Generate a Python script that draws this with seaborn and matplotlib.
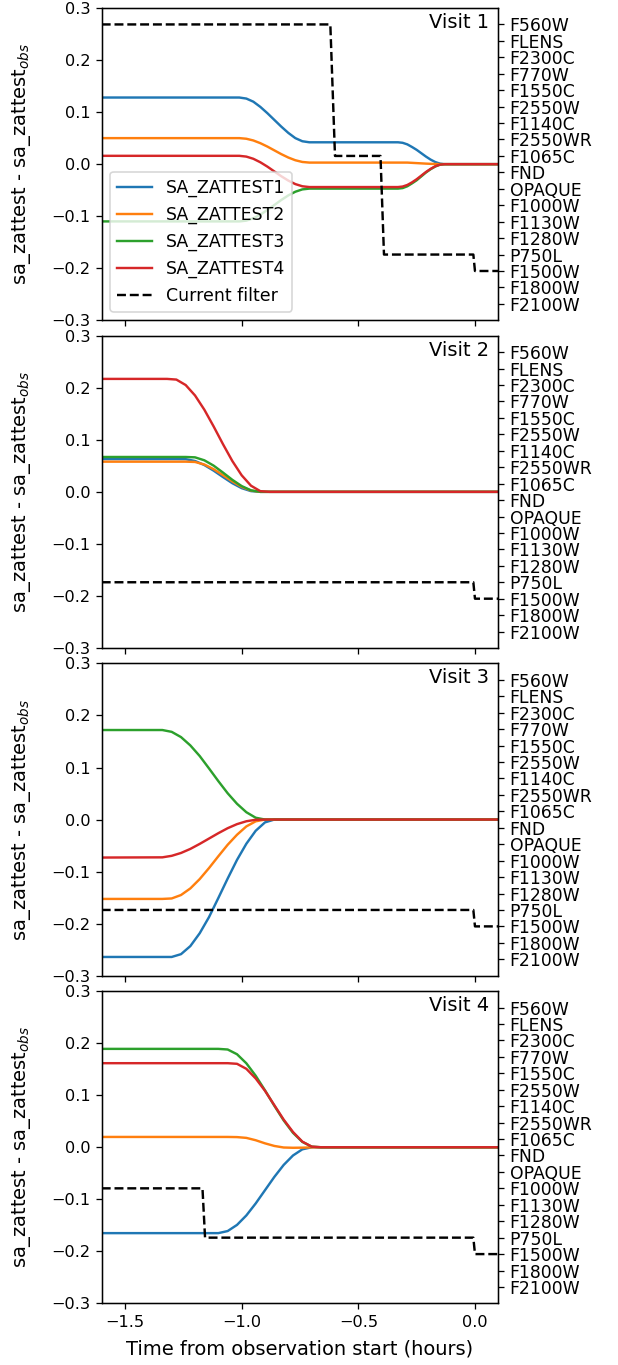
import matplotlib
matplotlib.use("Agg")
import matplotlib.pyplot as plt
import seaborn as sns
import numpy as np

# ---------------- data ----------------
series_names = ["SA_ZATTEST1", "SA_ZATTEST2", "SA_ZATTEST3", "SA_ZATTEST4"]
filters = ["F560W", "FLENS", "F2300C", "F770W", "F1550C", "F2550W", "F1140C",
           "F2550WR", "F1065C", "FND", "OPAQUE", "F1000W", "F1130W", "F1280W",
           "P750L", "F1500W", "F1800W", "F2100W"]
visits = ["Visit 1", "Visit 2", "Visit 3", "Visit 4"]

# Visit 1
t_v1 = [-1.6, -1.01, -0.98, -0.95, -0.92, -0.89, -0.86, -0.83, -0.80, -0.77, -0.74, -0.71,
        -0.33, -0.31, -0.29, -0.27, -0.25, -0.23, -0.21, -0.19, -0.17, -0.15, -0.13, 0.1]
v1_sa1 = [0.128, 0.128, 0.126, 0.120, 0.110, 0.098, 0.085, 0.072, 0.060, 0.050, 0.044, 0.042,
          0.042, 0.041, 0.038, 0.033, 0.0275, 0.021, 0.0145, 0.0087, 0.004, 0.001, 0.0, 0.0]
v1_sa2 = [0.050, 0.050, 0.0488, 0.0455, 0.0403, 0.0338, 0.0265, 0.0192, 0.0127, 0.0075, 0.0042, 0.003,
          0.003, 0.003, 0.003, 0.0025, 0.002, 0.0015, 0.001, 0.0006, 0.0003, 0.0001, 0.0, 0.0]
v1_sa3 = [-0.110, -0.110, -0.1085, -0.104, -0.097, -0.088, -0.0785, -0.0688, -0.060, -0.053, -0.0485, -0.047,
          -0.047, -0.046, -0.0425, -0.037, -0.031, -0.0235, -0.016, -0.0097, -0.0045, -0.001, 0.0, 0.0]
v1_sa4 = [0.016, 0.016, 0.0145, 0.0103, 0.0036, -0.0047, -0.014, -0.0233, -0.0316, -0.0383, -0.0425, -0.044,
          -0.044, -0.043, -0.040, -0.035, -0.029, -0.022, -0.015, -0.009, -0.004, -0.001, 0.0, 0.0]
f_t_v1 = [-1.6, -0.62, -0.60, -0.405, -0.39, -0.007, 0.0, 0.1]
f_v1 = ["F560W", "F560W", "F1065C", "F1065C", "P750L", "P750L", "F1500W", "F1500W"]

# Visit 2
t_v2 = [-1.6, -1.32, -1.28, -1.24, -1.20, -1.16, -1.12, -1.08, -1.04, -1.00, -0.96, -0.92, -0.88, 0.1]
v2_sa1 = [0.063, 0.063, 0.063, 0.0628, 0.0593, 0.0515, 0.0407, 0.0284, 0.0166, 0.0071, 0.0014, 0.0, 0.0, 0.0]
v2_sa2 = [0.058, 0.058, 0.058, 0.058, 0.0574, 0.0525, 0.0435, 0.032, 0.020, 0.0096, 0.0025, 0.0, 0.0, 0.0]
v2_sa3 = [0.067, 0.067, 0.067, 0.067, 0.0663, 0.0606, 0.0503, 0.037, 0.0231, 0.0111, 0.0029, 0.0, 0.0, 0.0]
v2_sa4 = [0.217, 0.217, 0.2157, 0.2052, 0.1852, 0.1578, 0.1255, 0.0915, 0.0592, 0.0318, 0.0118, 0.0013, 0.0, 0.0]
f_t_v2 = [-1.6, -0.007, 0.0, 0.1]
f_v2 = ["P750L", "P750L", "F1500W", "F1500W"]

# Visit 3
t_v3 = [-1.6, -1.34, -1.30, -1.26, -1.22, -1.18, -1.14, -1.10, -1.06, -1.02, -0.98, -0.94, -0.90, -0.86, 0.1]
v3_sa1 = [-0.264, -0.264, -0.264, -0.2586, -0.2431, -0.2185, -0.1874, -0.1507, -0.1133, -0.0775, -0.0465,
          -0.0216, -0.0054, 0.0, 0.0]
v3_sa2 = [-0.1525, -0.1525, -0.1516, -0.145, -0.1323, -0.1144, -0.0932, -0.0705, -0.0484, -0.0292, -0.0132,
          -0.0034, 0.0, 0.0, 0.0]
v3_sa3 = [0.172, 0.172, 0.1685, 0.1584, 0.1424, 0.1221, 0.0982, 0.0738, 0.0505, 0.0303, 0.0141, 0.0035,
          0.0, 0.0, 0.0]
v3_sa4 = [-0.073, -0.0726, -0.0697, -0.0642, -0.0564, -0.0468, -0.0365, -0.0262, -0.0166, -0.0088, -0.0033,
          -0.0004, 0.0, 0.0, 0.0]
f_t_v3 = [-1.6, -0.007, 0.0, 0.1]
f_v3 = ["P750L", "P750L", "F1500W", "F1500W"]

# Visit 4
t_v4 = [-1.6, -1.10, -1.06, -1.02, -0.98, -0.94, -0.90, -0.86, -0.82, -0.78, -0.74, -0.70, -0.66, 0.1]
v4_sa1 = [-0.165, -0.165, -0.161, -0.1492, -0.131, -0.108, -0.0825, -0.057, -0.034, -0.0158, -0.004, 0.0, 0.0, 0.0]
v4_sa2 = [0.0198, 0.0198, 0.0198, 0.0195, 0.018, 0.0135, 0.0075, 0.0025, -0.0005, -0.001, -0.0008, -0.0003, 0.0, 0.0]
v4_sa3 = [0.189, 0.189, 0.1878, 0.1787, 0.1613, 0.1374, 0.1093, 0.0797, 0.0516, 0.0277, 0.0103, 0.0012, 0.0, 0.0]
v4_sa4 = [0.1615, 0.1615, 0.1615, 0.1603, 0.1507, 0.1322, 0.1084, 0.0808, 0.0531, 0.0293, 0.0108, 0.0012, 0.0, 0.0]
f_t_v4 = [-1.6, -1.168, -1.157, -0.007, 0.0, 0.1]
f_v4 = ["F1000W", "F1000W", "P750L", "P750L", "F1500W", "F1500W"]

panels = [
    (t_v1, [v1_sa1, v1_sa2, v1_sa3, v1_sa4], f_t_v1, f_v1),
    (t_v2, [v2_sa1, v2_sa2, v2_sa3, v2_sa4], f_t_v2, f_v2),
    (t_v3, [v3_sa1, v3_sa2, v3_sa3, v3_sa4], f_t_v3, f_v3),
    (t_v4, [v4_sa1, v4_sa2, v4_sa3, v4_sa4], f_t_v4, f_v4),
]

# ---------------- plot ----------------
DPI = 116
fig = plt.figure(figsize=(618 / DPI, 1365 / DPI), dpi=DPI)
colors = sns.color_palette("tab10")

W, H = 618.0, 1365.0
left_px, right_px = 101.7, 498.3
top0, pitch, h_px = 8.0, 327.7, 312.3

axes = []
for k, (t, vals, ft, fv) in enumerate(panels):
    top = top0 + k * pitch
    ax = fig.add_axes([left_px / W, 1 - (top + h_px) / H, (right_px - left_px) / W, h_px / H])
    axes.append(ax)
    for name, v, c in zip(series_names, vals, colors):
        sns.lineplot(x=t, y=v, ax=ax, color=c, label=name, legend=False, linewidth=1.5)
    ax.set_xlim(-1.6, 0.1)
    ax.set_ylim(-0.3, 0.3)
    ax.set_yticks([-0.3, -0.2, -0.1, 0.0, 0.1, 0.2, 0.3])
    ax.set_xticks([-1.5, -1.0, -0.5, 0.0])
    ax.tick_params(labelsize=10)
    ax.set_ylabel("sa_zattest - sa_zattest$_{obs}$", fontsize=12)
    if k < 3:
        ax.tick_params(labelbottom=False)
        ax.set_xlabel("")
    else:
        ax.set_xlabel("Time from observation start (hours)", fontsize=12, labelpad=6)

    ax2 = ax.twinx()
    fidx = [filters.index(f) for f in fv]
    sns.lineplot(x=ft, y=fidx, ax=ax2, color="k", linestyle="--", label="Current filter",
                 legend=False, linewidth=1.5)
    ax2.set_ylim(18, -1)
    ax2.set_yticks(range(len(filters)))
    ax2.set_yticklabels(filters)
    ax2.tick_params(labelsize=10.7)
    ax2.set_ylabel("")
    ax2.set_xlim(-1.6, 0.1)

    ax2.text(0.977, 0.984, visits[k], transform=ax2.transAxes, ha="right", va="top", fontsize=12)

    if k == 0:
        h1, l1 = ax.get_legend_handles_labels()
        h2, l2 = ax2.get_legend_handles_labels()
        ax.legend(h1 + h2, l1 + l2, loc="lower left", fontsize=10.8)

for ax in axes:
    ax.yaxis.set_label_coords(-0.172, 0.5)

fig.savefig("out.png", dpi=DPI)
